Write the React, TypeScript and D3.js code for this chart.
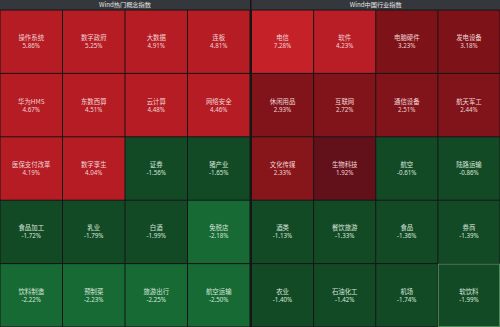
import React from "react";
import * as d3 from "d3";

const W = 500;
const H = 327;

const leftTitle = "Wind热门概念指数";
const rightTitle = "Wind中国行业指数";

const leftNames = [
  "操作系统", "数字政府", "大数据", "连板",
  "华为HMS", "东数西算", "云计算", "网络安全",
  "医保支付改革", "数字孪生", "证券", "猪产业",
  "食品加工", "乳业", "白酒", "免税店",
  "饮料制造", "预制菜", "旅游出行", "航空运输",
];
const leftValues = [
  5.86, 5.25, 4.91, 4.81,
  4.67, 4.51, 4.48, 4.46,
  4.19, 4.04, -1.56, -1.65,
  -1.72, -1.79, -1.99, -2.18,
  -2.22, -2.23, -2.25, -2.50,
];

const rightNames = [
  "电信", "软件", "电脑硬件", "发电设备",
  "休闲用品", "互联网", "通信设备", "航天军工",
  "文化传媒", "生物科技", "航空", "陆路运输",
  "酒类", "餐饮旅游", "食品", "券商",
  "农业", "石油化工", "机场", "软饮料",
];
const rightValues = [
  7.28, 4.23, 3.23, 3.18,
  2.93, 2.72, 2.51, 2.44,
  2.33, 1.92, -0.61, -0.86,
  -1.13, -1.33, -1.36, -1.39,
  -1.40, -1.42, -1.74, -1.99,
];

const leftColor = d3
  .scaleThreshold<number, string>()
  .domain([-2.1, 0])
  .range(["#176a34", "#134a26", "#b51c24"]);

const rightColor = d3
  .scaleThreshold<number, string>()
  .domain([0, 2.0, 2.4, 3.0, 4.0, 5.0])
  .range(["#134a26", "#62101a", "#87161b", "#80141a", "#7d1319", "#b91e27", "#c42129"]);

const highlighted = "软饮料";

type PanelProps = {
  x0: number;
  x1: number;
  title: string;
  names: string[];
  values: number[];
  color: (v: number) => string;
};

function Panel({ x0, x1, title, names, values, color }: PanelProps) {
  const headerH = 10;
  const cols = d3.range(4);
  const rows = d3.range(5);
  const xs = d3.scaleBand<number>().domain(cols).range([x0, x1]);
  const ys = d3.scaleBand<number>().domain(rows).range([headerH, H]);
  const fmt = (v: number) => v.toFixed(2) + "%";
  return (
    <g>
      <rect x={x0} y={0} width={x1 - x0} height={headerH - 0.5} fill="#34383c" />
      <text
        x={(x0 + x1) / 2}
        y={7}
        textAnchor="middle"
        fontSize={6.2}
        fill="#e4e4e4"
        fontFamily="'Noto Sans CJK SC', 'Noto Sans', sans-serif"
      >
        {title}
      </text>
      {names.map((n, i) => {
        const c = i % 4;
        const r = Math.floor(i / 4);
        const x = xs(c)!;
        const y = ys(r)!;
        const w = xs.bandwidth();
        const h = ys.bandwidth();
        const cx = x + w / 2;
        const cy = y + h / 2;
        const v = values[i];
        const hl = n === highlighted;
        const tc = v >= 0 ? "#f2d4d4" : "#d8e6da";
        return (
          <g key={n}>
            <rect
              x={x + 0.5}
              y={y + 0.5}
              width={w - 1}
              height={h - 1}
              fill={color(v)}
              stroke={hl ? "#4f8a5c" : "none"}
              strokeWidth={hl ? 1 : 0}
            />
            <text
              x={cx}
              y={cy - 1.5}
              textAnchor="middle"
              fontSize={6.4}
              fill={tc}
              fontFamily="'Noto Sans CJK SC', sans-serif"
            >
              {n}
            </text>
            <text
              x={cx}
              y={cy + 6.5}
              textAnchor="middle"
              fontSize={6.2}
              fill={tc}
              fontFamily="'Noto Sans', 'Noto Sans CJK SC', sans-serif"
            >
              {fmt(v)}
            </text>
          </g>
        );
      })}
    </g>
  );
}

export default function App() {
  return (
    <div style={{ position: "fixed", left: 0, top: 0, width: W, height: H }}>
      <svg width={W} height={H} style={{ display: "block" }}>
        <rect x={0} y={0} width={W} height={H} fill="#151515" />
        <Panel x0={0} x1={250} title={leftTitle} names={leftNames} values={leftValues} color={leftColor} />
        <Panel x0={251.5} x1={500} title={rightTitle} names={rightNames} values={rightValues} color={rightColor} />
      </svg>
    </div>
  );
}
